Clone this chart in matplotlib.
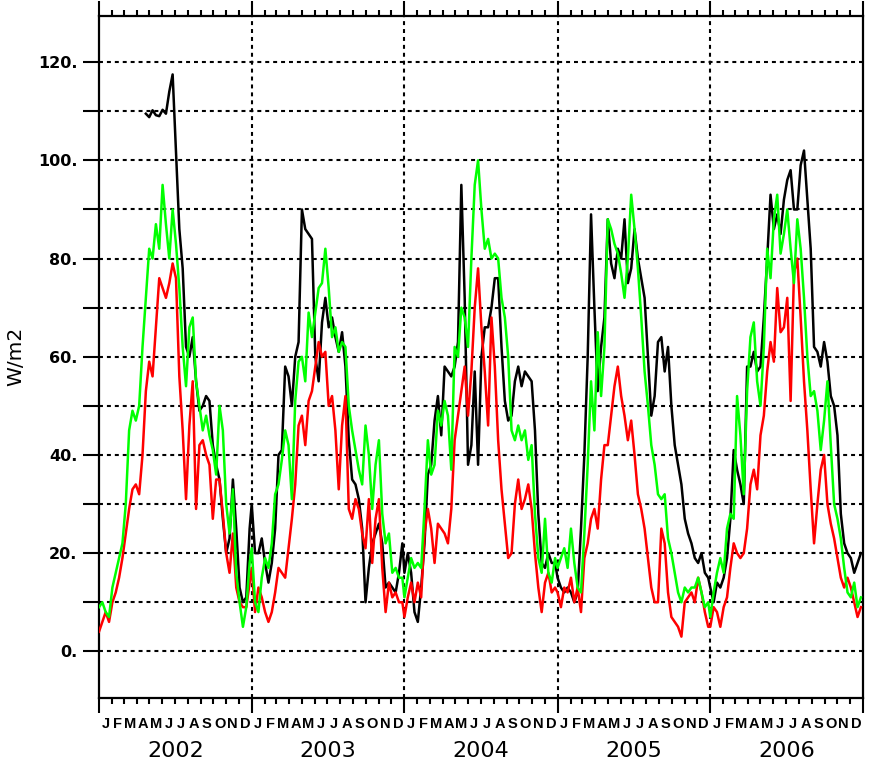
import numpy as np
import matplotlib
matplotlib.use("Agg")
import matplotlib.pyplot as plt
from matplotlib.ticker import FixedLocator

nan = np.nan

# ---------------- data (W/m2), one sample every 8 days within each year ----------------
years = [2002, 2003, 2004, 2005, 2006]
sample_step_days = 8
month_letters = ["J", "F", "M", "A", "M", "J", "J", "A", "S", "O", "N", "D"]
ytick_values = list(range(0, 121, 10))

black_2002 = [nan, nan, nan, nan, nan, nan, nan, nan, nan, nan, nan, nan, nan, nan,
              109.5, 108.8, 110.2, 109.2, 109.0, 110.3, 109.5, 114, 117.5, 102, 86, 78,
              62, 60, 64, 55, 49, 50, 52, 51, 42, 38, 35, 27, 20, 23, 35, 25, 13, 10, 11, 25]
black_2003 = [30, 20, 20, 23, 18, 14, 18, 25, 40, 41, 58, 56, 50, 60, 63, 90, 86, 85, 84,
              60, 55, 67, 72, 66, 68, 64, 61, 65, 58, 43, 35, 34, 31, 25, 10, 17, 22, 24,
              26, 22, 13, 14, 13, 12, 16, 22]
black_2004 = [16, 20, 16, 8, 6, 13, 22, 36, 38, 47, 52, 44, 58, 57, 56, 58, 63, 95, 72,
              38, 42, 57, 38, 60, 66, 66, 70, 76, 76, 62, 51, 47, 48, 55, 58, 54, 57, 56,
              55, 45, 28, 18, 17, 20, 18, 18]
black_2005 = [15, 13, 12, 13, 12, 10, 12, 25, 40, 60, 89, 70, 53, 62, 68, 88, 79, 76, 82,
              80, 88, 75, 78, 86, 80, 76, 72, 60, 48, 52, 63, 64, 57, 62, 50, 42, 38, 34,
              27, 24, 22, 19, 18, 20, 16, 15]
black_2006 = [13, 10, 14, 13, 15, 19, 27, 41, 37, 34, 30, 58, 58, 61, 57, 58, 68, 80, 93,
              86, 89, 85, 92, 96, 98, 90, 90, 99, 102, 92, 82, 62, 61, 58, 63, 59, 52, 50,
              44, 28, 22, 20, 19, 16, 18, 20]

red_2002 = [4, 6, 8, 6, 10, 12, 15, 19, 24, 29, 33, 34, 32, 40, 53, 59, 56, 66, 76, 74,
            72, 75, 79, 76, 56, 45, 31, 46, 55, 29, 42, 43, 40, 38, 27, 35, 35, 28, 20, 16,
            24, 13, 10, 9, 9, 14]
red_2003 = [17, 8, 13, 11, 8, 6, 8, 12, 17, 16, 15, 21, 27, 34, 46, 48, 42, 51, 53, 58,
            63, 60, 61, 50, 52, 45, 33, 46, 52, 29, 27, 31, 29, 24, 21, 31, 18, 27, 31, 17,
            8, 14, 11, 12, 10, 10]
red_2004 = [7, 11, 14, 10, 14, 11, 24, 29, 25, 18, 26, 25, 24, 22, 29, 43, 48, 53, 58,
            48, 57, 70, 78, 66, 57, 46, 68, 58, 43, 33, 26, 19, 20, 30, 35, 29, 31, 34,
            29, 20, 13, 8, 14, 16, 12, 13]
red_2005 = [12, 9, 13, 12, 15, 10, 13, 8, 19, 22, 27, 29, 25, 35, 42, 42, 48, 54, 58, 52,
            48, 43, 47, 40, 32, 29, 25, 19, 13, 10, 10, 25, 22, 12, 7, 6, 5, 3, 10, 11, 12,
            10, 15, 12, 8, 5]
red_2006 = [5, 9, 8, 5, 9, 11, 17, 22, 20, 19, 20, 25, 34, 37, 33, 44, 48, 57, 63, 59, 74,
            65, 66, 72, 51, 77, 80, 68, 55, 45, 33, 22, 30, 37, 40, 30, 26, 23, 19, 15, 13,
            15, 13, 10, 7, 9]

green_2002 = [9, 10, 8, 7, 13, 16, 19, 22, 30, 45, 49, 47, 50, 62, 72, 82, 80, 87, 82, 95,
              87, 80, 90, 83, 74, 62, 54, 66, 68, 55, 50, 45, 48, 44, 41, 36, 50, 45, 30,
              24, 33, 16, 10, 5, 9, 18]
green_2003 = [21, 10, 8, 15, 19, 17, 22, 32, 34, 39, 45, 42, 31, 51, 59, 60, 55, 69, 64,
              69, 74, 75, 82, 74, 64, 66, 61, 63, 62, 50, 45, 41, 37, 34, 46, 40, 29, 38,
              43, 28, 22, 24, 16, 17, 15, 15]
green_2004 = [11, 15, 19, 17, 18, 17, 29, 43, 36, 38, 49, 46, 51, 48, 37, 62, 60, 70, 68,
              62, 80, 95, 100, 90, 82, 84, 80, 81, 80, 72, 68, 60, 45, 43, 46, 43, 45, 39,
              42, 28, 19, 16, 27, 16, 14, 19]
green_2005 = [17, 19, 21, 17, 25, 18, 13, 12, 24, 38, 55, 45, 65, 52, 62, 88, 86, 83, 81,
              77, 72, 80, 93, 86, 78, 68, 57, 50, 42, 38, 32, 31, 32, 23, 20, 16, 12, 10,
              13, 12, 13, 13, 15, 12, 9, 10]
green_2006 = [7, 12, 16, 19, 16, 25, 28, 27, 52, 44, 32, 53, 64, 67, 55, 50, 62, 82, 76,
              88, 93, 81, 85, 90, 82, 75, 88, 82, 72, 60, 52, 53, 49, 41, 47, 55, 42, 30,
              27, 23, 17, 12, 11, 14, 9, 11]

series = [
    ("black", [black_2002, black_2003, black_2004, black_2005, black_2006]),
    ("#ff0000", [red_2002, red_2003, red_2004, red_2005, red_2006]),
    ("#00ff00", [green_2002, green_2003, green_2004, green_2005, green_2006]),
]

# ---------------- time axis (days since 2002-01-01) ----------------
t0 = np.datetime64("2002-01-01")
year_starts = np.array([(np.datetime64(f"{y}-01-01") - t0).astype(int) for y in years + [years[-1] + 1]])
months = np.arange(np.datetime64("2002-01"), np.datetime64("2007-02"), dtype="datetime64[M]")
month_bounds = (months.astype("datetime64[D]") - t0).astype(int)
month_mids = (month_bounds[:-1] + month_bounds[1:]) / 2.0

W, H = 877, 766
fig = plt.figure(figsize=(W / 100, H / 100), dpi=100)
ax = fig.add_axes([99 / W, 1 - 698 / H, (863 - 99) / W, (698 - 16) / H])

# grid
grid_kw = dict(color="black", lw=1.5, dashes=(1.9, 1.9), zorder=1)
for v in ytick_values:
    ax.axhline(v, **grid_kw)
for xb in year_starts[1:-1]:
    ax.axvline(xb, **grid_kw)

for color, yrs in series:
    xs, ys = [], []
    for ys_year, start in zip(yrs, year_starts[:-1]):
        xs.extend(start + sample_step_days * np.arange(len(ys_year)))
        ys.extend(ys_year)
    ax.plot(xs, ys, color=color, lw=1.8, zorder=3)

ax.set_xlim(year_starts[0], year_starts[-1])
ax.set_ylim(-9.5, 129.4)

for s in ax.spines.values():
    s.set_linewidth(1.6)

# x ticks: years long, months short, both top and bottom
ax.xaxis.set_major_locator(FixedLocator(year_starts))
ax.xaxis.set_minor_locator(FixedLocator(month_bounds))
ax.tick_params(axis="x", which="major", direction="out", length=11, width=1.5,
               top=True, bottom=True, labelbottom=False)
ax.tick_params(axis="x", which="minor", direction="out", length=4.5, width=1.5,
               top=True, bottom=True)

# y ticks
ax.set_yticks(ytick_values)
ax.set_yticklabels([f"{v}." if v % 20 == 0 else "" for v in ytick_values],
                   fontsize=11.5, fontweight="bold", family="DejaVu Sans")
ax.tick_params(axis="y", which="major", direction="out", length=11.5, width=1.5, pad=4,
               right=False)

xt = ax.get_xaxis_transform()
for i, xm in enumerate(month_mids):
    ax.text(xm, -0.038, month_letters[i % 12], transform=xt, ha="center", va="center",
            fontsize=10.5, fontweight="bold", family="Liberation Sans")
for i, y in enumerate(years):
    xm = (year_starts[i] + year_starts[i + 1]) / 2
    ax.text(xm, -0.078, str(y), transform=xt, ha="center", va="center",
            fontsize=16, family="DejaVu Sans")

fig.text(16 / W, 1 - 356 / H, "W/m2", rotation=90, ha="center", va="center",
         fontsize=14.5, family="DejaVu Sans")

fig.savefig("out.png", dpi=100)
